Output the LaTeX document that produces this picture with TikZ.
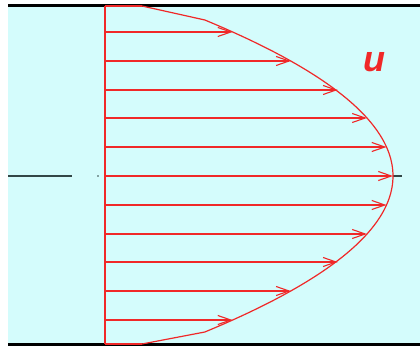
\documentclass[tikz,border=0pt]{standalone}
\usepackage{fontspec}
\setmainfont{Liberation Sans}
\usetikzlibrary{arrows.meta}
\definecolor{flowbg}{RGB}{212,252,252}
\definecolor{profred}{RGB}{240,40,40}
\definecolor{axisgray}{RGB}{50,70,70}
\tikzset{
  vel/.style={profred, line width=1.4pt, -{Straight Barb[length=13pt,width=9pt,line width=1.1pt]}},
  wall/.style={black, line width=3pt},
  prof/.style={profred, line width=1.2pt, line join=round},
}
\begin{document}
\begin{tikzpicture}[x=1pt,y=-1pt]
\useasboundingbox (0,0) rectangle (420,347);
\fill[flowbg] (8,6) rectangle (420,344);
% centre line
\coordinate (cl1) at (8,176);
\coordinate (cl2) at (72,176);
\draw[axisgray, line width=1.2pt] (cl1) -- (cl2);
\fill[axisgray] (98,176) circle (0.8pt);
\coordinate (cr1) at (393,176);
\coordinate (cr2) at (402,176);
\draw[axisgray, line width=1.2pt] (cr1) -- (cr2);
% walls
\coordinate (wt1) at (8,6); \coordinate (wt2) at (420,6);
\coordinate (wb1) at (8,344); \coordinate (wb2) at (420,344);
\draw[wall] (wt1) -- (wt2);
\draw[wall] (wb1) -- (wb2);
% base line
\coordinate (b0) at (105,6);
\coordinate (b1) at (105,344);
\draw[prof] (b0) -- (b1);
\draw[prof] (105,6) -- (142,6);
\draw[prof] (105,344) -- (142,344);
% profile (parabola)
\draw[prof] (142,6) -- plot[domain=-156:156, samples=80] ({105+288*(1-(\x/193)^2)}, {176+\x}) -- (142,344);
% velocity arrows
\foreach \y/\x [count=\i] in {32/232.5,61/290.8,90/337.8,118/366.9,147/386.5,176/393,205/386.5,234/366.9,262/337.8,291/290.8,320/232.5}{
  \coordinate (s\i) at (105,\y);
  \coordinate (t\i) at (\x,\y);
  \draw[vel] (s\i) -- (t\i);
}
\node[profred, font=\fontsize{36}{40}\selectfont\bfseries\itshape] (u) at (374,62) {u};
\end{tikzpicture}
\end{document}
